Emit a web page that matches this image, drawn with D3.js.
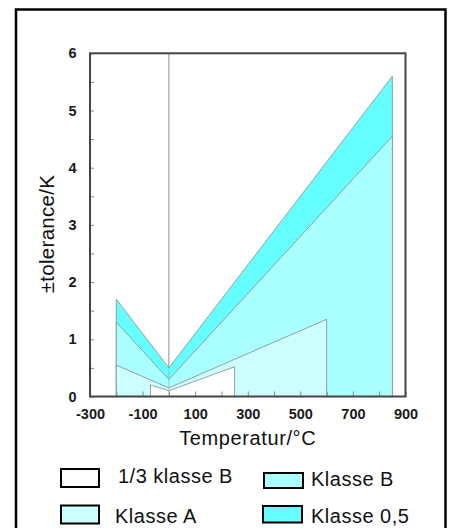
<!DOCTYPE html>
<html>
<head>
<meta charset="utf-8">
<script src="https://cdn.jsdelivr.net/npm/d3@7"></script>
<style>
  html, body { margin: 0; padding: 0; background: #fff; }
  svg { display: block; }
  text { font-family: "Liberation Sans", Arial, Helvetica, sans-serif; }
</style>
</head>
<body>
<svg id="chart" width="454" height="528"></svg>
<script>
// ---- data ----
const seriesNames = ["Klasse 0,5", "Klasse B", "Klasse A", "1/3 klasse B"];
const klasse05 = [[-200, 1.7], [0, 0.5], [850, 5.6]];
const klasseB  = [[-200, 1.3], [0, 0.3], [850, 4.55]];
const klasseA  = [[-200, 0.55], [0, 0.15], [600, 1.35]];
const drittelB = [[-70, 0.2], [0, 0.1], [250, 0.52]];
const xTickValues = [-300, -200, -100, 0, 100, 200, 300, 400, 500, 600, 700, 800, 900];
const xTickLabels = [-300, -100, 100, 300, 500, 700, 900];
const yTickValues = [0, 0.5, 1, 1.5, 2, 2.5, 3, 3.5, 4, 4.5, 5, 5.5, 6];
const yTickLabels = [0, 1, 2, 3, 4, 5, 6];
const xTitle = "Temperatur/°C";
const yTitle = "±tolerance/K";
const legendOrder = ["1/3 klasse B", "Klasse B", "Klasse A", "Klasse 0,5"];

// ---- styles / layout ----
const colors = {
  "Klasse 0,5": "#66ffff",
  "Klasse B": "#aaffff",
  "Klasse A": "#ccffff",
  "1/3 klasse B": "#ffffff"
};
const seriesData = {
  "Klasse 0,5": klasse05,
  "Klasse B": klasseB,
  "Klasse A": klasseA,
  "1/3 klasse B": drittelB
};
const plot = { left: 90, right: 405.5, top: 53.3, bottom: 396.5 };

const svg = d3.select("#chart");

// outer border (bottom cut off)
svg.append("rect")
  .attr("x", 16).attr("y", 9.5)
  .attr("width", 429.5).attr("height", 540)
  .attr("fill", "none").attr("stroke", "#000").attr("stroke-width", 2.5);

const x = d3.scaleLinear().domain([-300, 900]).range([plot.left, plot.right]);
const y = d3.scaleLinear().domain([0, 6]).range([plot.bottom, plot.top]);

// zero line
svg.append("line")
  .attr("x1", x(0)).attr("x2", x(0))
  .attr("y1", y(6)).attr("y2", y(0))
  .attr("stroke", "#aaa").attr("stroke-width", 1);

// areas
const areaGen = d3.line().x(d => x(d[0])).y(d => y(d[1]));
seriesNames.forEach(name => {
  const pts = seriesData[name];
  const poly = [[pts[0][0], 0], ...pts, [pts[pts.length - 1][0], 0]];
  svg.append("path")
    .attr("d", areaGen(poly) + "Z")
    .attr("fill", colors[name])
    .attr("stroke", "#8a8a8a")
    .attr("stroke-opacity", 0.8)
    .attr("stroke-width", 1)
    .attr("stroke-linejoin", "miter");
});

// faint zero line over the areas
svg.append("line")
  .attr("x1", x(0)).attr("x2", x(0))
  .attr("y1", y(6)).attr("y2", y(0))
  .attr("stroke", "#999").attr("stroke-opacity", 0.5).attr("stroke-width", 1);

// axes
const xAxis = d3.axisBottom(x)
  .tickValues(xTickValues)
  .tickSizeInner(-5).tickSizeOuter(0).tickPadding(12)
  .tickFormat(d => xTickLabels.includes(d) ? String(d) : "");
const gx = svg.append("g").attr("transform", `translate(0,${plot.bottom})`).call(xAxis);
gx.select(".domain").remove();
gx.selectAll(".tick line").attr("stroke", "#888");
gx.selectAll(".tick text")
  .attr("font-size", 14.5).attr("font-weight", "bold").attr("fill", "#1a1a1a")
  .style("font-family", "'Liberation Sans', Arial, sans-serif");

const yAxis = d3.axisLeft(y)
  .tickValues(yTickValues)
  .tickSizeInner(-4).tickSizeOuter(0).tickPadding(13.5)
  .tickFormat(d => yTickLabels.includes(d) ? String(d) : "");
const gy = svg.append("g").attr("transform", `translate(${plot.left},0)`).call(yAxis);
gy.select(".domain").remove();
gy.selectAll(".tick line").attr("stroke", "#888");
gy.selectAll(".tick text")
  .attr("font-size", 14.5).attr("font-weight", "bold").attr("fill", "#1a1a1a")
  .style("font-family", "'Liberation Sans', Arial, sans-serif");

// frame
svg.append("rect")
  .attr("x", plot.left).attr("y", plot.top)
  .attr("width", plot.right - plot.left).attr("height", plot.bottom - plot.top)
  .attr("fill", "none").attr("stroke", "#444").attr("stroke-width", 2);

// titles
svg.append("text")
  .attr("x", (plot.left + plot.right) / 2).attr("y", 445)
  .attr("text-anchor", "middle").attr("font-size", 20).attr("letter-spacing", 0.6)
  .attr("fill", "#111")
  .text(xTitle);

svg.append("text")
  .attr("transform", `translate(54,234) rotate(-90)`)
  .attr("text-anchor", "middle").attr("font-size", 20.5).attr("letter-spacing", 0.3)
  .attr("fill", "#111")
  .text(yTitle);

// legend
const legendLayout = {
  "1/3 klasse B": { bx: 61, by: 469, bw: 38, bh: 18, tx: 118, ty: 483 },
  "Klasse B":     { bx: 264, by: 473, bw: 39, bh: 15, tx: 311, ty: 486 },
  "Klasse A":     { bx: 61, by: 505.5, bw: 38, bh: 18, tx: 115, ty: 523 },
  "Klasse 0,5":   { bx: 263, by: 506, bw: 39, bh: 16.5, tx: 311, ty: 523 }
};
const lg = svg.append("g");
legendOrder.forEach(name => {
  const L = legendLayout[name];
  lg.append("rect")
    .attr("x", L.bx).attr("y", L.by).attr("width", L.bw).attr("height", L.bh)
    .attr("fill", colors[name]).attr("stroke", "#000").attr("stroke-width", 2);
  lg.append("text")
    .attr("x", L.tx).attr("y", L.ty)
    .attr("font-size", 20).attr("letter-spacing", 0.5).attr("fill", "#111")
    .text(name);
});
</script>
</body>
</html>
